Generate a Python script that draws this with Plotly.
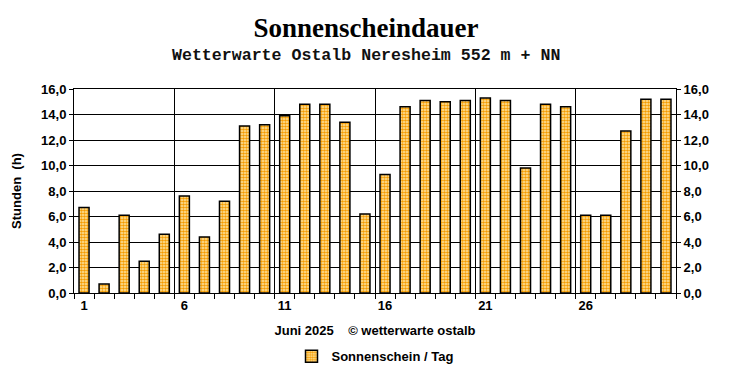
import plotly.graph_objects as go

days = list(range(1, 31))
sunshine = [6.7, 0.7, 6.1, 2.5, 4.6, 7.6, 4.4, 7.2, 13.1, 13.2,
            13.9, 14.8, 14.8, 13.4, 6.2, 9.3, 14.6, 15.1, 15.0, 15.1,
            15.3, 15.1, 9.8, 14.8, 14.6, 6.1, 6.1, 12.7, 15.2, 15.2]
label_days = [1, 6, 11, 16, 21, 26]
series_name = "Sonnenschein / Tag"
title_text = "Sonnenscheindauer"
subtitle_text = "Wetterwarte Ostalb Neresheim 552 m + NN"
x_title = "Juni 2025\u00a0\u00a0\u00a0\u00a0© wetterwarte ostalb"
y_title = "Stunden\u00a0\u00a0(h)"

grid_x = [d - 0.5 for d in label_days if d > 1]
x_range = [days[0] - 0.5, days[-1] + 0.5]
y_range = [0, 16]

axis_font = dict(family="Liberation Sans, Arial", size=13, color="black")

W, H = 732, 380
fig = go.Figure()
fig.add_trace(go.Bar(
    x=days, y=sunshine, name="<b>" + series_name + "</b>", width=0.5,
    marker=dict(
        color="#FFE9A8",
        line=dict(color="black", width=1.5),
        pattern=dict(shape=".", size=3, solidity=0.6,
                     fgcolor="#F59B00", bgcolor="#FFEBB0", fillmode="replace"),
    ),
    showlegend=True,
))
# invisible trace to activate the right axis
fig.add_trace(go.Scatter(x=days, y=sunshine, yaxis="y2", xaxis="x2",
                         mode="none", showlegend=False, hoverinfo="skip"))

fig.update_layout(
    width=W, height=H,
    margin=dict(l=66, r=64, t=81, b=95),
    paper_bgcolor="white", plot_bgcolor="white",
    separators=",.",
    bargap=0.5,
    title=dict(text="<b>" + title_text + "</b>", x=(366 - 8) / W, xanchor="center",
               y=1 - 20 / H, yanchor="middle",
               font=dict(family="Liberation Serif, Times New Roman", size=27, color="black")),
    annotations=[dict(text="<b>" + subtitle_text + "</b>", xref="paper", yref="paper",
                      x=(366 - 8 - 66) / (W - 66 - 64), y=1.0, yshift=34,
                      xanchor="center", yanchor="middle",
                      showarrow=False,
                      font=dict(family="Liberation Mono, Courier New", size=16.6, color="#111"))],
    xaxis=dict(
        range=x_range, tickmode="array", tickvals=label_days,
        ticktext=["<b>%d</b>" % d for d in label_days],
        ticks="", showgrid=False, zeroline=False, automargin=False,
        showline=True, linecolor="black", linewidth=1, mirror=True,
        tickfont=axis_font, ticklabelstandoff=0,
        minor=dict(tick0=0.5, dtick=1, ticks="outside", ticklen=5,
                   tickcolor="black", tickwidth=1, showgrid=False),
        title=dict(text="<b>" + x_title + "</b>", font=axis_font, standoff=14),
    ),
    xaxis2=dict(
        range=x_range, overlaying="x", tickmode="array", tickvals=grid_x,
        showticklabels=False, ticks="", showgrid=True, gridcolor="black",
        gridwidth=1, zeroline=False, showline=False, automargin=False,
    ),
    yaxis=dict(
        range=y_range, dtick=2, tickformat=".1f", automargin=False,
        ticks="outside", ticklen=4, tickcolor="black",
        showgrid=True, gridcolor="black", gridwidth=1, zeroline=False,
        showline=True, linecolor="black", linewidth=1,
        tickfont=axis_font,
        tickprefix="<b>", ticksuffix="</b>",
        title=dict(text="<b>" + y_title + "</b>", font=axis_font, standoff=16),
    ),
    yaxis2=dict(
        range=y_range, dtick=2, tickformat=".1f", overlaying="y", side="right",
        ticks="outside", ticklen=4, tickcolor="black", automargin=False,
        showgrid=False, zeroline=False,
        showline=True, linecolor="black", linewidth=1,
        tickfont=axis_font,
        tickprefix="<b>", ticksuffix="</b>",
    ),
    legend=dict(orientation="h", x=0.5, xanchor="center", y=-0.31, yanchor="middle",
                font=axis_font, bgcolor="rgba(0,0,0,0)", itemwidth=30),
)

fig.write_html("out.html")
